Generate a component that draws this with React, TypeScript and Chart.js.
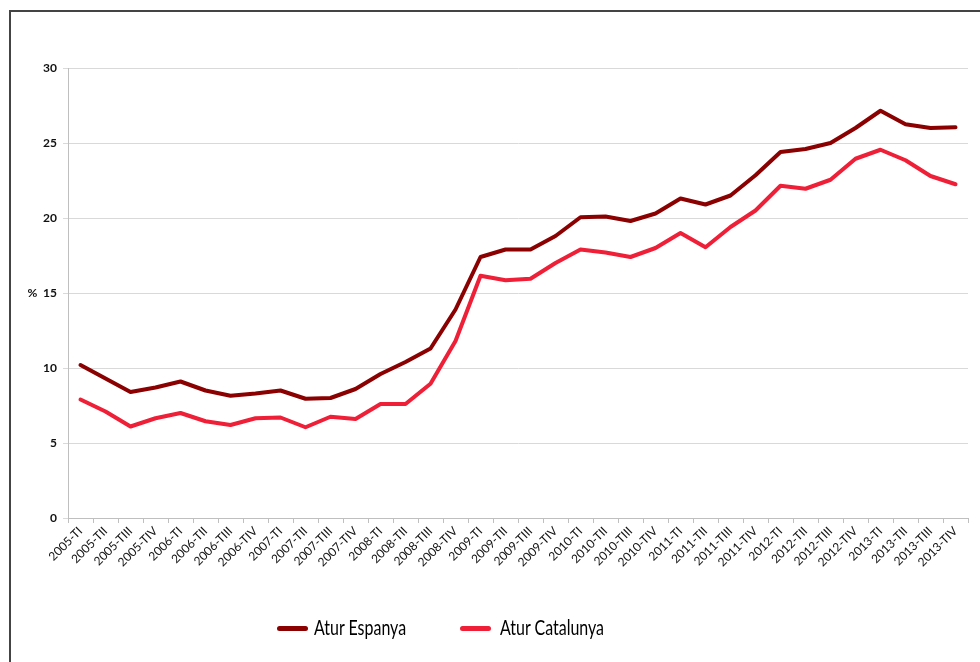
import React, { useEffect, useRef } from "react";
import { Chart, registerables } from "chart.js";

Chart.register(...registerables);

const categories = [
  "2005-TI", "2005-TII", "2005-TIII", "2005-TIV",
  "2006-TI", "2006-TII", "2006-TIII", "2006-TIV",
  "2007-TI", "2007-TII", "2007-TIII", "2007-TIV",
  "2008-TI", "2008-TII", "2008-TIII", "2008-TIV",
  "2009-TI", "2009-TII", "2009-TIII", "2009-TIV",
  "2010-TI", "2010-TII", "2010-TIII", "2010-TIV",
  "2011-TI", "2011-TII", "2011-TIII", "2011-TIV",
  "2012-TI", "2012-TII", "2012-TIII", "2012-TIV",
  "2013-TI", "2013-TII", "2013-TIII", "2013-TIV",
];

const aturEspanya = [
  10.2, 9.3, 8.4, 8.7,
  9.1, 8.5, 8.15, 8.3,
  8.5, 7.95, 8.0, 8.6,
  9.6, 10.4, 11.3, 13.9,
  17.4, 17.9, 17.9, 18.8,
  20.05, 20.1, 19.8, 20.3,
  21.3, 20.9, 21.5, 22.85,
  24.4, 24.6, 25.0, 26.0,
  27.15, 26.25, 26.0, 26.05,
];

const aturCatalunya = [
  7.9, 7.1, 6.1, 6.65,
  7.0, 6.45, 6.2, 6.65,
  6.7, 6.05, 6.75, 6.6,
  7.6, 7.6, 8.95, 11.8,
  16.15, 15.85, 15.95, 17.0,
  17.9, 17.7, 17.4, 18.0,
  19.0, 18.05, 19.4, 20.5,
  22.15, 21.95, 22.55, 23.95,
  24.55, 23.85, 22.8, 22.25,
];

const yTicks = [0, 5, 10, 15, 20, 25, 30];

const seriesNames = ["Atur Espanya", "Atur Catalunya"];
const seriesColors = ["#8b0000", "#ee1f36"];

export default function App() {
  const canvasRef = useRef<HTMLCanvasElement | null>(null);

  useEffect(() => {
    if (!canvasRef.current) return;
    const chart = new Chart(canvasRef.current, {
      type: "line",
      data: {
        labels: categories,
        datasets: [
          {
            label: seriesNames[0],
            data: aturEspanya,
            borderColor: seriesColors[0],
            backgroundColor: seriesColors[0],
            borderWidth: 4,
            pointRadius: 0,
            tension: 0,
            borderJoinStyle: "round",
            borderCapStyle: "round",
          },
          {
            label: seriesNames[1],
            data: aturCatalunya,
            borderColor: seriesColors[1],
            backgroundColor: seriesColors[1],
            borderWidth: 4,
            pointRadius: 0,
            tension: 0,
            borderJoinStyle: "round",
            borderCapStyle: "round",
          },
        ],
      },
      options: {
        animation: false,
        responsive: false,
        maintainAspectRatio: false,
        layout: { padding: { left: 10, right: 12, top: 68, bottom: 64 } },
        plugins: {
          legend: { display: false },
          tooltip: { enabled: false },
        },
        scales: {
          x: {
            type: "category",
            offset: true,
            grid: {
              offset: true,
              drawOnChartArea: false,
              drawTicks: true,
              tickLength: 5,
              color: "#bfbfbf",
            },
            border: { display: true, color: "#bfbfbf", width: 1 },
            ticks: {
              autoSkip: false,
              minRotation: 45,
              maxRotation: 45,
              padding: 1,
              color: "#111",
              font: { family: "Lato, 'Open Sans', sans-serif", size: 12 },
            },
            afterFit: (s: any) => {
              s.height = 80;
            },
          },
          y: {
            min: 0,
            max: 30,
            afterBuildTicks: (s: any) => {
              s.ticks = yTicks.map((v) => ({ value: v }));
            },
            grid: {
              color: "#d9d9d9",
              drawTicks: true,
              tickLength: 5,
              lineWidth: 1,
            },
            border: { display: true, color: "#bfbfbf", width: 1 },
            ticks: {
              padding: 6,
              color: "#111",
              font: { family: "Lato, 'Open Sans', sans-serif", size: 12, weight: "bold" },
              callback: (v: any) => (v === 15 ? "%  15" : String(v)),
            },
            afterFit: (s: any) => {
              s.width = 58;
            },
          },
        },
      },
    });
    return () => chart.destroy();
  }, []);

  const legendItems = [
    { line: 277, text: 314 },
    { line: 460, text: 500 },
  ];

  return (
    <div style={{ position: "absolute", left: 0, top: 0, width: 980, height: 662, background: "#fff", overflow: "hidden" }}>
      <div
        style={{
          position: "absolute",
          left: 9,
          top: 10,
          width: 980,
          height: 662,
          borderLeft: "2px solid #444",
          borderTop: "2px solid #444",
          boxSizing: "border-box",
        }}
      />
      <canvas ref={canvasRef} width={980} height={662} style={{ position: "absolute", left: 0, top: 0, width: 980, height: 662 }} />
      {legendItems.map((it, i) => (
        <React.Fragment key={i}>
          <div
            style={{
              position: "absolute",
              left: it.line,
              top: 626,
              width: 31,
              height: 5,
              borderRadius: 3,
              background: seriesColors[i],
            }}
          />
          <div
            style={{
              position: "absolute",
              left: it.text,
              top: 614,
              fontFamily: "Lato, 'Open Sans', sans-serif",
              fontSize: 21,
              lineHeight: "26px",
              color: "#000",
              whiteSpace: "nowrap",
              transform: "scaleX(0.76)",
              transformOrigin: "left center",
            }}
          >
            {seriesNames[i]}
          </div>
        </React.Fragment>
      ))}
    </div>
  );
}
